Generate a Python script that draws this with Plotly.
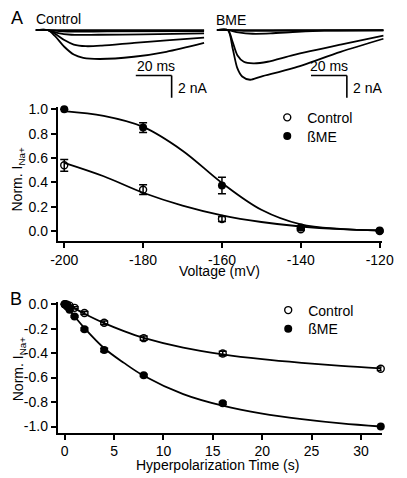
import plotly.graph_objects as go

W, H = 407, 478
FONT = "Arial, 'Liberation Sans', Helvetica, sans-serif"

# ---------------- Panel A (top): current traces (ms, nA) ----------------
ctrl_t_d = [0, 6.9, 10.6, 16, 21.3, 26.6, 35.6, 54.8, 72.9, 94]
ctrl_i_d = [0, 0, -0.5, -1.5, -2.2, -2.5, -2.6, -2.4, -1.95, -1.15]
ctrl_t_c = [0, 6.9, 10.6, 16, 21.3, 28, 37, 55, 73, 94]
ctrl_i_c = [0, 0, -0.3, -0.9, -1.3, -1.45, -1.4, -1.15, -0.92, -0.68]
ctrl_t_b = [0, 6.9, 12, 20, 35, 60, 94]
ctrl_i_b = [0, 0, -0.25, -0.42, -0.42, -0.38, -0.3]
ctrl_t_a = [0, 6.9, 15, 40, 94]
ctrl_i_a = [0, 0, -0.12, -0.12, -0.08]
ctrl_t_0 = [0, 94]
ctrl_i_0 = [0, 0]

bme_t_d = [0, 6.2, 8.9, 11.5, 14.2, 18.6, 24.8, 42.6, 69.1, 93]
bme_i_d = [0, 0, -1.66, -3.43, -4.18, -4.47, -4.18, -3.43, -1.96, -0.78]
bme_t_c = [0, 6.2, 8.9, 11.5, 15.1, 20.4, 28.4, 42.6, 69.1, 93]
bme_i_c = [0, 0, -1.08, -2.26, -2.85, -2.99, -2.85, -2.26, -1.31, -0.49]
bme_t_b = [0, 6.2, 12, 20, 30, 45, 60, 93]
bme_i_b = [0, 0, -0.2, -0.33, -0.3, -0.15, -0.05, -0.02]
bme_t_a = [0, 6.2, 15, 40, 93]
bme_i_a = [0, 0, -0.07, -0.05, -0.02]
bme_t_0 = [0, 93]
bme_i_0 = [0, 0]

SCALE_MS = 20
SCALE_NA = 2

# ---------------- Panel A (bottom): normalized I vs voltage ----------------
voltage = [-200, -180, -160, -140, -120]
ctrl_norm = [0.54, 0.34, 0.10, 0.015, 0.0]
ctrl_err = [0.048, 0.04, 0.02, 0.01, 0.0]
bme_norm = [1.0, 0.85, 0.375, 0.03, 0.005]
bme_err = [0.0, 0.04, 0.068, 0.01, 0.0]

fit_voltage = [-200, -190, -180, -170, -160, -150, -140, -130, -120]
ctrl_fit = [0.56, 0.45, 0.315, 0.21, 0.13, 0.075, 0.038, 0.016, 0.006]
bme_fit = [0.985, 0.945, 0.855, 0.66, 0.395, 0.175, 0.055, 0.018, 0.005]

volt_ticks = [-200, -180, -160, -140, -120]
volt_ticktext = ["-200", "-180", "-160", "-140", "-120"]
normA_ticks = [0, 0.2, 0.4, 0.6, 0.8, 1.0]
normA_ticktext = ["0.0", "0.2", "0.4", "0.6", "0.8", "1.0"]

# ---------------- Panel B: normalized I vs hyperpolarization time ----------------
time_s = [0, 0.1, 0.25, 0.5, 1, 2, 4, 8, 16, 32]
ctrl_time = [0, -0.002, -0.005, -0.012, -0.03, -0.072, -0.152, -0.278, -0.403, -0.528]
ctrl_time_err = [0, 0, 0, 0.005, 0.008, 0.012, 0.015, 0.018, 0.018, 0.015]
bme_time = [0, -0.005, -0.02, -0.045, -0.1, -0.205, -0.375, -0.582, -0.81, -1.0]
bme_time_err = [0, 0, 0, 0.005, 0.008, 0.01, 0.015, 0.01, 0.01, 0.0]

fit_time = [0, 1, 2, 4, 6, 8, 12, 16, 20, 24, 28, 32]
ctrl_time_fit = [0, -0.035, -0.078, -0.155, -0.22, -0.275, -0.355, -0.41, -0.45, -0.48, -0.505, -0.525]
bme_time_fit = [0, -0.1, -0.195, -0.36, -0.48, -0.585, -0.735, -0.83, -0.895, -0.94, -0.975, -1.0]

time_ticks = [0, 5, 10, 15, 20, 25, 30]
time_ticktext = ["0", "5", "10", "15", "20", "25", "30"]
normB_ticks = [0, -0.2, -0.4, -0.6, -0.8, -1.0]
normB_ticktext = ["0.0", "-0.2", "-0.4", "-0.6", "-0.8", "-1.0"]


def fx(px):
    return px / W


def fy(py):
    return 1 - py / H


fig = go.Figure()
LW = 1.8

# current traces
ctrl_sets = [(ctrl_t_0, ctrl_i_0), (ctrl_t_a, ctrl_i_a), (ctrl_t_b, ctrl_i_b),
             (ctrl_t_c, ctrl_i_c), (ctrl_t_d, ctrl_i_d)]
for t, i in ctrl_sets:
    fig.add_trace(go.Scatter(x=t, y=i, mode="lines", line=dict(color="black", width=LW, shape="spline", smoothing=0.8),
                             xaxis="x3", yaxis="y3", showlegend=False, hoverinfo="skip"))
bme_sets = [(bme_t_0, bme_i_0), (bme_t_a, bme_i_a), (bme_t_b, bme_i_b),
            (bme_t_c, bme_i_c), (bme_t_d, bme_i_d)]
for t, i in bme_sets:
    fig.add_trace(go.Scatter(x=t, y=i, mode="lines", line=dict(color="black", width=LW, shape="spline", smoothing=0.8),
                             xaxis="x4", yaxis="y4", showlegend=False, hoverinfo="skip"))

OPEN = dict(symbol="circle-open", size=7, color="black", line=dict(width=1.4, color="black"))
FILLED = dict(symbol="circle", size=8, color="black")

# Panel A fits
fig.add_trace(go.Scatter(x=fit_voltage, y=ctrl_fit, mode="lines", line=dict(color="black", width=LW, shape="spline"),
                         xaxis="x", yaxis="y", showlegend=False, hoverinfo="skip"))
fig.add_trace(go.Scatter(x=fit_voltage, y=bme_fit, mode="lines", line=dict(color="black", width=LW, shape="spline"),
                         xaxis="x", yaxis="y", showlegend=False, hoverinfo="skip"))
# Panel A data
fig.add_trace(go.Scatter(x=voltage, y=ctrl_norm, mode="markers", name="Control", marker=OPEN,
                         error_y=dict(type="data", array=ctrl_err, color="black", thickness=1.5, width=4),
                         xaxis="x", yaxis="y", legend="legend", cliponaxis=False))
fig.add_trace(go.Scatter(x=voltage, y=bme_norm, mode="markers", name="ßME", marker=FILLED,
                         error_y=dict(type="data", array=bme_err, color="black", thickness=1.5, width=4),
                         xaxis="x", yaxis="y", legend="legend2", cliponaxis=False))

# Panel B fits
fig.add_trace(go.Scatter(x=fit_time, y=ctrl_time_fit, mode="lines", line=dict(color="black", width=LW, shape="spline"),
                         xaxis="x2", yaxis="y2", showlegend=False, hoverinfo="skip"))
fig.add_trace(go.Scatter(x=fit_time, y=bme_time_fit, mode="lines", line=dict(color="black", width=LW, shape="spline"),
                         xaxis="x2", yaxis="y2", showlegend=False, hoverinfo="skip"))
# Panel B data
fig.add_trace(go.Scatter(x=time_s, y=ctrl_time, mode="markers", name="Control", marker=OPEN,
                         error_y=dict(type="data", array=ctrl_time_err, color="black", thickness=1.5, width=4),
                         xaxis="x2", yaxis="y2", legend="legend3", cliponaxis=False))
fig.add_trace(go.Scatter(x=time_s, y=bme_time, mode="markers", name="ßME", marker=FILLED,
                         error_y=dict(type="data", array=bme_time_err, color="black", thickness=1.5, width=4),
                         xaxis="x2", yaxis="y2", legend="legend4", cliponaxis=False))

axis_common = dict(showline=True, linecolor="black", linewidth=1.6, ticks="outside", ticklen=5,
                   tickwidth=1.6, tickcolor="black", showgrid=False, zeroline=False,
                   tickfont=dict(family=FONT, size=14, color="black"), fixedrange=True)

# trace panel mapping: 1.88 px/ms, 11.3 px/nA
PXMS = 1.88
PXNA = 11.3
tr_top, tr_bot = 15, 97
base_y = 24.5
y3range = [-(tr_bot - base_y) / PXNA, (base_y - tr_top) / PXNA]


def leg(x_marker, y_center):
    # legend item: marker centered 20px right of legend left, row center ~15.6px below top
    return dict(x=fx(x_marker - 20), y=fy(y_center - 15.6), xanchor="left", yanchor="top",
                bgcolor="rgba(0,0,0,0)", font=dict(family=FONT, size=14, color="black"),
                tracegroupgap=0, borderwidth=0)


fig.update_layout(
    width=W, height=H, autosize=False,
    margin=dict(l=0, r=0, t=0, b=0),
    paper_bgcolor="white", plot_bgcolor="white",
    font=dict(family=FONT, size=14, color="black"),
    xaxis=dict(domain=[fx(53), fx(393)], range=[-201.7, -119.5], anchor="y",
               tickvals=volt_ticks, ticktext=volt_ticktext, **axis_common),
    yaxis=dict(domain=[fy(239), fy(103)], range=[-0.081, 1.016], anchor="x",
               tickvals=normA_ticks, ticktext=normA_ticktext, **axis_common),
    xaxis2=dict(domain=[fx(53), fx(393)], range=[-0.724, 32.09], anchor="y2",
                tickvals=time_ticks, ticktext=time_ticktext, **axis_common),
    yaxis2=dict(domain=[fy(434), fy(301)], range=[-1.051, 0.018], anchor="x2",
                tickvals=normB_ticks, ticktext=normB_ticktext, **axis_common),
    xaxis3=dict(domain=[fx(30), fx(30 + 100 * PXMS)], range=[0, 100], anchor="y3", visible=False, fixedrange=True),
    yaxis3=dict(domain=[fy(tr_bot), fy(tr_top)], range=y3range, anchor="x3", visible=False, fixedrange=True),
    xaxis4=dict(domain=[fx(220), fx(220 + 95 * PXMS)], range=[0, 95], anchor="y4", visible=False, fixedrange=True),
    yaxis4=dict(domain=[fy(tr_bot), fy(tr_top)], range=y3range, anchor="x4", visible=False, fixedrange=True),
    legend=leg(293, 113),
    legend2=leg(293, 132),
    legend3=leg(294, 309),
    legend4=leg(294, 328),
    showlegend=True,
)

# scale bars (shapes in trace-axis units)
ctrl_bar_end = (172.7 - 30) / PXMS
bar_top = -(70.7 - base_y) / PXNA
bme_bar_end = (356.5 - 220) / PXMS
for xr, yr, xe in [("x3", "y3", ctrl_bar_end), ("x4", "y4", bme_bar_end)]:
    fig.add_shape(type="line", xref=xr, yref=yr, x0=xe - SCALE_MS, x1=xe, y0=bar_top, y1=bar_top,
                  line=dict(color="black", width=1.6))
    fig.add_shape(type="line", xref=xr, yref=yr, x0=xe, x1=xe, y0=bar_top, y1=bar_top - SCALE_NA,
                  line=dict(color="black", width=1.6))


def ann(text, x, y, xanchor="left", yanchor="middle", size=14, angle=0):
    fig.add_annotation(text=text, x=fx(x), y=fy(y), xref="paper", yref="paper", showarrow=False,
                       xanchor=xanchor, yanchor=yanchor, textangle=angle,
                       font=dict(family=FONT, size=size, color="black"))


ann("A", 2, 12, size=18)
ann("B", 1, 298, size=18)
ann("Control", 28, 13)
ann("BME", 217, 14)
ann("%d ms" % SCALE_MS, 156, 61, xanchor="center")
ann("%d nA" % SCALE_NA, 177, 83)
ann("%d ms" % SCALE_MS, 338, 61, xanchor="center")
ann("%d nA" % SCALE_NA, 361, 83)
ann("Voltage (mV)", 223, 270, xanchor="center")
ann("Hyperpolarization Time (s)", 221, 467, xanchor="center")
ann("Norm. I<sub>Na+</sub>", 12, 176, xanchor="center", angle=-90)
ann("Norm. I<sub>Na+</sub>", 12, 369, xanchor="center", angle=-90)

fig.write_html("out.html", config={"responsive": False, "displayModeBar": False},
               post_script="document.body.style.margin='0';document.body.style.overflow='hidden';")
